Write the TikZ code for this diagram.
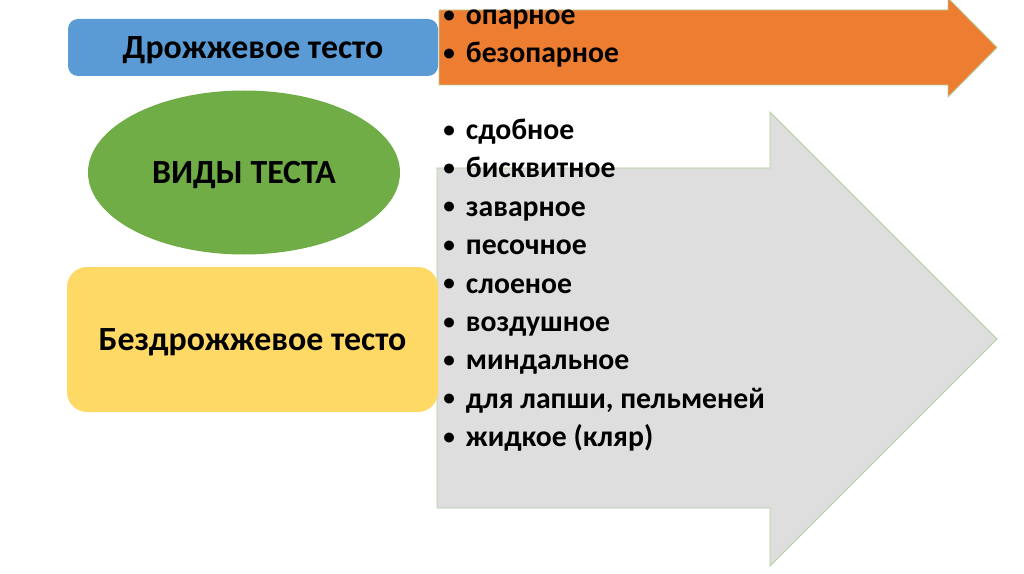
\documentclass[tikz,border=0pt]{standalone}
\usepackage{fontspec}
\usepackage{graphicx}
\setmainfont{Carlito}
\usetikzlibrary{shapes.geometric,positioning}

\definecolor{yeastblue}{HTML}{5B9BD5}
\definecolor{kindgreen}{HTML}{70AD47}
\definecolor{nonyeastyellow}{HTML}{FFD966}
\definecolor{arroworange}{HTML}{ED7D31}
\definecolor{arrowgray}{HTML}{DEDEDE}
\definecolor{arrowedge}{HTML}{B3CF9C}

\newcommand{\itm}[1]{\makebox[17pt][l]{\raisebox{0.08em}{\scalebox{0.78}{\textbullet}}}#1}

\begin{document}
\begin{tikzpicture}[x=0.75pt,y=-0.75pt,
  boxtext/.style={font=\fontsize{25.4}{30}\selectfont\bfseries, text=black, inner sep=0pt, text depth=0pt},
  itemtext/.style={font=\fontsize{22.3}{27}\selectfont\bfseries, text=black, anchor=base west, inner sep=0pt},
  bigarrow/.style={draw=arrowedge, line width=0.6pt}]
\useasboundingbox (0,0) rectangle (1024,574);

% arrows
\path[clip] (0,0) rectangle (1024,574);
\draw[bigarrow, fill=arroworange] (439,10) -- (948,10) -- (948,-2) -- (997,47.5) -- (948,97) -- (948,85) -- (439,85) -- cycle;
\draw[bigarrow, fill=arrowgray] (437,168) -- (770,168) -- (770,112) -- (997,339) -- (770,566) -- (770,508) -- (437,508) -- cycle;

% left shapes
\node[boxtext, fill=yeastblue, rounded corners=7.5pt, minimum width=277.5pt, minimum height=42.75pt] (yeast) at (253,47.5) {Дрожжевое тесто};
\node[boxtext, ellipse, fill=kindgreen, minimum width=234pt, minimum height=123pt] (kinds) at (244,172.5) {ВИДЫ ТЕСТА};
\node[boxtext, fill=nonyeastyellow, rounded corners=15pt, minimum width=278.25pt, minimum height=108.75pt] (nonyeast) at (252.5,339.5) {Бездрожжевое тесто};

% lists
\node[itemtext] (sponge) at (443,24.5) {\itm{опарное}};
\node[itemtext] (straight) at (443,62.5) {\itm{безопарное}};
\foreach \name/\txt [count=\i from 0] in {rich/сдобное, biscuit/бисквитное, choux/заварное, short/песочное, puff/слоеное, airy/воздушное, almond/миндальное, noodle/{для лапши, пельменей}, batter/{жидкое (кляр)}}
  \node[itemtext] (\name) at (443,139.5+38.4*\i) {\itm{\txt}};
\end{tikzpicture}
\end{document}
